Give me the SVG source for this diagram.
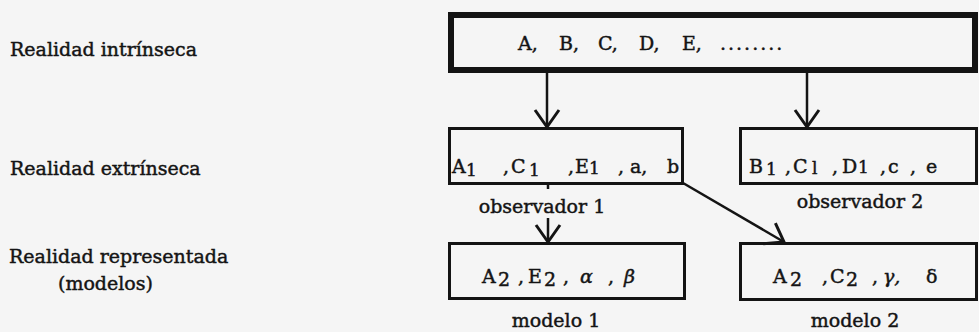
<svg xmlns="http://www.w3.org/2000/svg" width="979" height="332" viewBox="0 0 979 332">
<style>
text{font-family:"DejaVu Serif","Liberation Serif",serif;font-size:19px;fill:#141414;stroke:#141414;stroke-width:0.45;}
.sub{font-size:17px;}
.box{fill:none;stroke:#141414;stroke-width:3;}
.thick{fill:none;stroke:#141414;stroke-width:6;}
.con{fill:none;stroke:#141414;stroke-width:2.5;}
</style>
<defs>
<marker id="arr" markerUnits="userSpaceOnUse" markerWidth="40" markerHeight="40" refX="0" refY="0" viewBox="-20 -20 40 40" orient="auto">
<path d="M-17,-12 L0,0 L-17,12" fill="none" stroke="#141414" stroke-width="3" stroke-linejoin="miter"/>
</marker>
</defs>
<rect width="979" height="332" fill="#f5f5f5"/>
<g id="labels">
<text x="10" y="56">Realidad intrínseca</text>
<text x="10" y="175">Realidad extrínseca</text>
<text x="9" y="263">Realidad representada</text>
<text x="58" y="290">(modelos)</text>
</g>
<g id="intrinseca">
<rect class="thick" x="451" y="15" width="524" height="55"/>
<text y="50"><tspan x="518">A,</tspan><tspan x="559">B,</tspan><tspan x="598">C,</tspan><tspan x="639">D,</tspan><tspan x="682">E,</tspan><tspan x="720" letter-spacing="2">........</tspan></text>
</g>
<g id="observador1">
<rect class="box" x="449.5" y="128.5" width="233" height="55"/>
<text y="173"><tspan x="452">A</tspan><tspan x="466" class="sub" dy="3">1</tspan><tspan x="503" dy="-3">,</tspan><tspan x="511">C</tspan><tspan x="529" class="sub" dy="3">1</tspan><tspan x="568" dy="-3">,</tspan><tspan x="575">E</tspan><tspan x="589" class="sub" dy="1">1</tspan><tspan x="618" dy="-1">,</tspan><tspan x="630">a,</tspan><tspan x="667">b</tspan></text>
<text x="542" y="213" text-anchor="middle">observador 1</text>
</g>
<g id="observador2">
<rect class="box" x="740.5" y="128.5" width="236" height="55"/>
<text y="173"><tspan x="749">B</tspan><tspan x="766" class="sub" dy="2">1</tspan><tspan x="785" dy="-2">,</tspan><tspan x="793">C</tspan><tspan x="812" class="sub" dy="1">l</tspan><tspan x="832" dy="-1">,</tspan><tspan x="842">D</tspan><tspan x="858" class="sub">1</tspan><tspan x="880">,</tspan><tspan x="888">c</tspan><tspan x="910">,</tspan><tspan x="926">e</tspan></text>
<text x="860" y="208" text-anchor="middle">observador  2</text>
</g>
<g id="modelo1">
<rect class="box" x="449.5" y="243.5" width="235" height="55"/>
<text y="283"><tspan x="482">A</tspan><tspan x="498" dy="3">2</tspan><tspan x="518" dy="-3">,</tspan><tspan x="528">E</tspan><tspan x="544" dy="3">2</tspan><tspan x="563" dy="-3">,</tspan><tspan x="580" font-style="italic">α</tspan><tspan x="608">,</tspan><tspan x="624" font-style="italic">β</tspan></text>
<text x="556" y="327" text-anchor="middle">modelo 1</text>
</g>
<g id="modelo2">
<rect class="box" x="740.5" y="243.5" width="236" height="56"/>
<text y="283"><tspan x="773">A</tspan><tspan x="790" dy="3">2</tspan><tspan x="822" dy="-3">,</tspan><tspan x="830">C</tspan><tspan x="846" dy="3">2</tspan><tspan x="872" dy="-3">,</tspan><tspan x="883" font-style="italic">γ,</tspan><tspan x="926">δ</tspan></text>
<text x="855" y="327" text-anchor="middle">modelo 2</text>
</g>
<g id="connectors">
<path class="con" d="M547,73 V127" marker-end="url(#arr)"/>
<path class="con" d="M807,73 V127" marker-end="url(#arr)"/>
<path class="con" d="M548,184 V189"/>
<path class="con" d="M548,218 V242" marker-end="url(#arr)"/>
<path class="con" d="M683,183 L784,242" marker-end="url(#arr)"/>
</g>
</svg>
